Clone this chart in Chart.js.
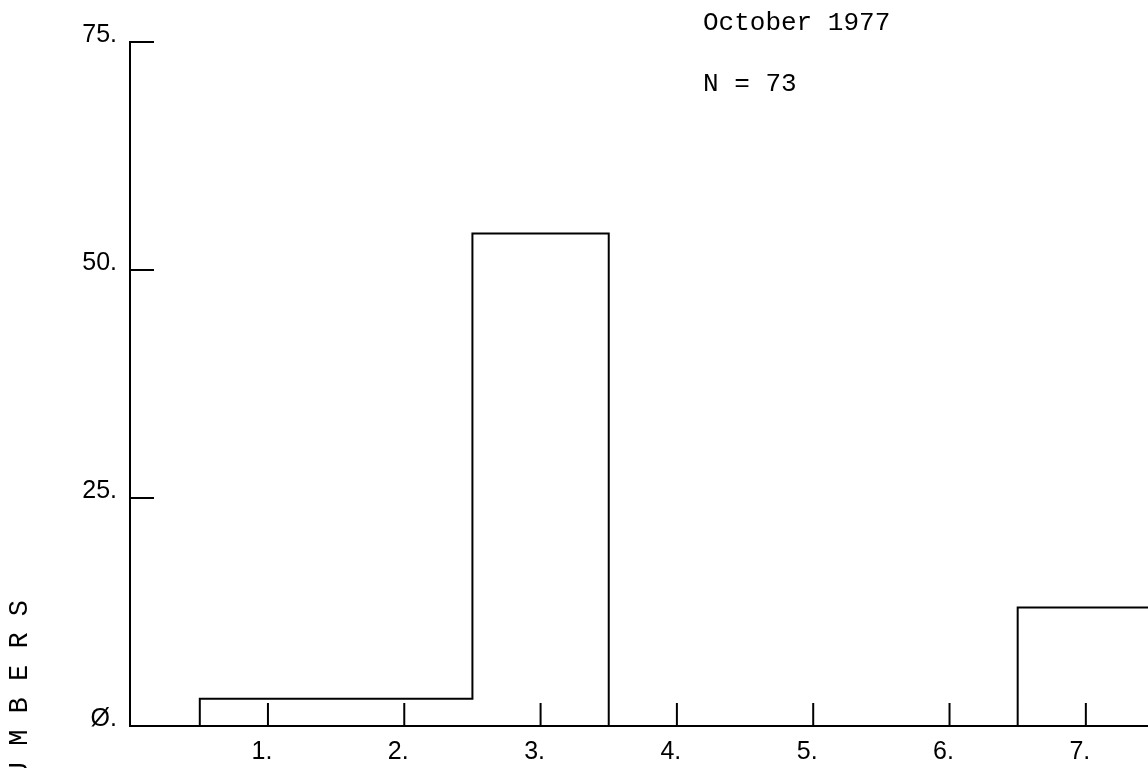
<!DOCTYPE html>
<html>
<head>
<meta charset="utf-8">
<script src="https://cdn.jsdelivr.net/npm/chart.js@4/dist/chart.umd.min.js"></script>
<style>
  html, body { margin: 0; padding: 0; background: #fff; }
  #wrap { width: 1148px; height: 768px; }
</style>
</head>
<body>
<div id="wrap"><canvas id="histo"></canvas></div>
<script>
// Daten
const kategorien = [1, 2, 3, 4, 5, 6, 7];
const anzahl = [3, 3, 54, 0, 0, 0, 13];
const xLabels = ["1.", "2.", "3.", "4.", "5.", "6.", "7."];
const yTicks = [0, 25, 50, 75];
const yLabels = ["Ø.", "25.", "50.", "75."];
const titelZeilen = ["October 1977", "N = 73"];
const achsenTitel = "N U M B E R S";

// Treppenlinie (Histogramm-Umriss): jeder Punkt = rechte Klassengrenze
const stufen = [{ x: kategorien[0] - 0.5, y: 0 }];
kategorien.forEach((k, i) => stufen.push({ x: k + 0.5, y: anzahl[i] }));
stufen.push({ x: kategorien[kategorien.length - 1] + 0.5, y: 0 });

// Ticks + Beschriftungen selber zeichnen (Ticks zeigen nach innen)
const achsenPlugin = {
    id: "achsen",
    afterDraw(chart) {
        const ctx = chart.ctx;
        const xs = chart.scales.x;
        const ys = chart.scales.y;
        const links = chart.chartArea.left;
        const unten = ys.getPixelForValue(0);
        ctx.save();
        ctx.strokeStyle = "#000";
        ctx.fillStyle = "#000";
        ctx.lineWidth = 2;

        // y-Ticks
        ctx.font = "25px 'Liberation Sans', Arial, sans-serif";
        ctx.textAlign = "right";
        ctx.textBaseline = "middle";
        yTicks.forEach((v, i) => {
            const py = ys.getPixelForValue(v);
            ctx.beginPath();
            ctx.moveTo(links, py);
            ctx.lineTo(links + 24, py);
            ctx.stroke();
            ctx.fillText(yLabels[i], 117, py - 7);
        });

        // x-Ticks
        ctx.textAlign = "center";
        kategorien.forEach((k, i) => {
            const px = xs.getPixelForValue(k);
            ctx.beginPath();
            ctx.moveTo(px, unten);
            ctx.lineTo(px, unten - 23);
            ctx.stroke();
            ctx.fillText(xLabels[i], px - 6, 752);
        });

        // Titel oben rechts
        ctx.font = "26px 'Liberation Mono', 'Courier New', monospace";
        ctx.textAlign = "left";
        ctx.fillText(titelZeilen[0], 703, 23);
        ctx.fillText(titelZeilen[1], 703, 84);

        // Achsentitel senkrecht (abgeschnitten am Rand)
        ctx.translate(20, 600);
        ctx.rotate(-Math.PI / 2);
        ctx.textAlign = "right";
        ctx.font = "27px 'Liberation Mono', 'Courier New', monospace";
        ctx.fillText(achsenTitel, 0, 0);
        ctx.restore();
    }
};

const histo = new Chart(document.getElementById("histo"), {
    type: "line",
    data: {
        datasets: [{
            data: stufen,
            stepped: "after",
            borderColor: "#000",
            borderWidth: 2,
            pointRadius: 0,
            fill: false
        }]
    },
    options: {
        responsive: true,
        maintainAspectRatio: false,
        animation: false,
        layout: { padding: { top: 42, right: 0, bottom: 0, left: 0 } },
        plugins: {
            legend: { display: false },
            tooltip: { enabled: false }
        },
        scales: {
            x: {
                type: "linear",
                min: -0.012,
                max: 7.456,
                grid: { display: false },
                ticks: { display: false },
                border: { color: "#000", width: 2 },
                afterFit: s => { s.height = 42; }
            },
            y: {
                min: 0,
                max: 75,
                grid: { display: false },
                ticks: { display: false },
                border: { color: "#000", width: 2 },
                afterFit: s => { s.width = 130; }
            }
        }
    },
    plugins: [achsenPlugin]
});
</script>
</body>
</html>
